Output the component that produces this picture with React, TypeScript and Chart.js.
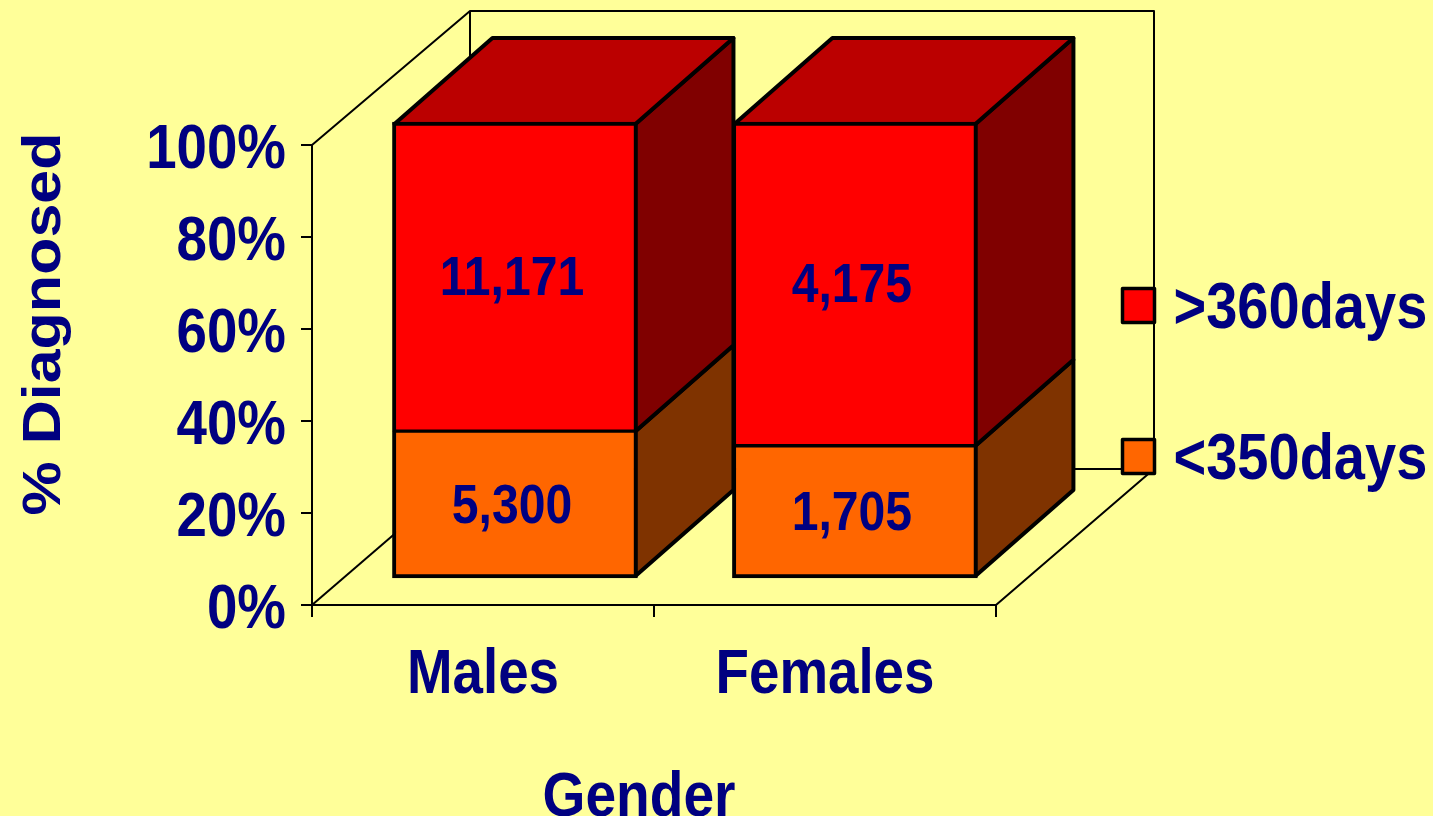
import React, { useEffect, useRef } from "react";
import { Chart, registerables } from "chart.js";

Chart.register(...registerables);

const categories = ["Males", "Females"];
const barPositions = [0, 1];
const pctUnder350 = [32.2, 29.0];
const pctOver360 = [67.8, 71.0];
const countLabelsUnder350 = ["5,300", "1,705"];
const countLabelsOver360 = ["11,171", "4,175"];
const seriesNames = ["<350days", ">360days"];
const yTicks = { min: 0, step: 20, top: 100 };

const NAVY = "#000080";
const BG = "#FFFF99";
const FAMILY = "'Liberation Sans', Arial, sans-serif";
// The reference's type is condensed horizontally on screen.
const SQUEEZE = 0.875;
// Canvas "middle" sits above the visual centre of the digits.
const MIDDLE_DROP = 6;
// Axis titles are not centred on the plot in the reference (screen px).
const TITLE_SHIFT: Record<string, number[]> = { "% Diagnosed": [3, -40], Gender: [-15, 0] };
const BAR_DEPTH = { x: 98, y: -86 };
const WALL_DEPTH = { x: 158, top: -134, bottom: -136 };

const shades: Record<string, { front: string; side: string; top: string }> = {
  under: { front: "#FF6600", side: "#7F3300", top: "#7F3300" },
  over: { front: "#FF0000", side: "#800000", top: "#BB0000" },
};

function poly(ctx: CanvasRenderingContext2D, pts: number[][], fill: string | null, width: number) {
  ctx.beginPath();
  pts.forEach((p, i) => (i ? ctx.lineTo(p[0], p[1]) : ctx.moveTo(p[0], p[1])));
  if (fill) {
    ctx.closePath();
    ctx.fillStyle = fill;
    ctx.fill();
  }
  ctx.lineWidth = width;
  ctx.strokeStyle = "#000";
  ctx.lineJoin = "round";
  ctx.stroke();
}

const frame3d = {
  id: "frame3d",
  beforeDatasetsDraw(chart: any) {
    const ctx = chart.ctx as CanvasRenderingContext2D;
    const { left, right, bottom } = chart.chartArea;
    const topY = chart.scales.y.getPixelForValue(yTicks.top);
    const dx = WALL_DEPTH.x;
    const backTop = topY + WALL_DEPTH.top;
    const backBottom = bottom + WALL_DEPTH.bottom;
    ctx.save();
    poly(ctx, [[left, bottom], [left, topY], [left + dx, backTop], [right + dx, backTop], [right + dx, backBottom], [right, bottom]], null, 2);
    poly(ctx, [[left + dx, backTop], [left + dx, backBottom], [right + dx, backBottom]], null, 2);
    poly(ctx, [[left, bottom], [left + dx, backBottom]], null, 2);

    const under = chart.getDatasetMeta(0).data;
    const over = chart.getDatasetMeta(1).data;
    const ox = BAR_DEPTH.x;
    const oy = BAR_DEPTH.y;
    under.forEach((low: any, i: number) => {
      const high = over[i];
      const r = low.x + low.width / 2 - 2;
      const l = low.x - low.width / 2 + 2;
      const b = low.base - 2;
      const m = low.y;
      const t = high.y + 2;
      poly(ctx, [[r, b], [r + ox, b + oy], [r + ox, m + oy], [r, m]], shades.under.side, 4);
      poly(ctx, [[r, m], [r + ox, m + oy], [r + ox, t + oy], [r, t]], shades.over.side, 4);
      poly(ctx, [[l, t], [l + ox, t + oy], [r + ox, t + oy], [r, t]], shades.over.top, 4);
    });
    ctx.restore();
  },
  afterDatasetsDraw(chart: any) {
    const ctx = chart.ctx as CanvasRenderingContext2D;
    ctx.save();
    ctx.textAlign = "center";
    ctx.textBaseline = "middle";
    ctx.font = `bold 55px ${FAMILY}`;
    [countLabelsUnder350, countLabelsOver360].forEach((labels, d) => {
      chart.getDatasetMeta(d).data.forEach((el: any, i: number) => {
        ctx.fillStyle = NAVY;
        ctx.fillText(labels[i], el.x - 3, (el.y + el.base) / 2 - 3);
      });
    });
    // Legend, upper entry first
    const rows = [
      { name: seriesNames[1], color: shades.over.front, y: 288 },
      { name: seriesNames[0], color: shades.under.front, y: 439 },
    ];
    ctx.textAlign = "left";
    ctx.font = `bold 64px ${FAMILY}`;
    rows.forEach((row) => {
      ctx.fillStyle = row.color;
      ctx.fillRect(1122, row.y, 32, 34);
      ctx.strokeStyle = "#000";
      ctx.lineWidth = 3.5;
      ctx.lineJoin = "round";
      ctx.strokeRect(1122.5, row.y + 0.5, 32, 34);
      ctx.fillStyle = NAVY;
      ctx.fillText(row.name, 1173.5, row.y + 16);
    });
    ctx.restore();
  },
};

export default function App() {
  const ref = useRef<HTMLCanvasElement>(null);

  useEffect(() => {
    const canvas = ref.current!;
    const ctx = canvas.getContext("2d") as any;
    const rawFill = ctx.fillText.bind(ctx);
    ctx.fillText = (text: string, x: number, y: number) => {
      const m = ctx.getTransform();
      const rotated = Math.abs(m.b) > 0.5;
      const shift = TITLE_SHIFT[text] || [0, 0];
      ctx.save();
      ctx.setTransform(m.a, m.b, m.c, m.d, m.e + shift[0], m.f + shift[1]);
      ctx.translate(x, y + (!rotated && ctx.textBaseline === "middle" ? MIDDLE_DROP : 0));
      ctx.scale(rotated ? 1 : SQUEEZE, rotated ? SQUEEZE : 1);
      rawFill(text, 0, 0);
      ctx.restore();
    };

    const chart = new Chart(canvas, {
      type: "bar",
      data: {
        labels: categories,
        datasets: [
          {
            label: seriesNames[0],
            data: barPositions.map((x, i) => ({ x, y: pctUnder350[i] })),
            backgroundColor: shades.under.front,
            borderColor: "#000",
            borderWidth: { top: 2, left: 4, right: 4, bottom: 4 },
            borderSkipped: false,
            xAxisID: "x2",
            yAxisID: "y2",
            barThickness: 245,
            clip: false,
          },
          {
            label: seriesNames[1],
            data: barPositions.map((x, i) => ({ x, y: pctOver360[i] })),
            backgroundColor: shades.over.front,
            borderColor: "#000",
            borderWidth: { top: 4, left: 4, right: 4, bottom: 2 },
            borderSkipped: false,
            xAxisID: "x2",
            yAxisID: "y2",
            barThickness: 245,
            clip: false,
          },
        ],
      } as any,
      options: {
        responsive: false,
        animation: false,
        devicePixelRatio: 1,
        layout: { padding: { top: 123, right: 437, left: 0, bottom: 0 } },
        plugins: { legend: { display: false }, tooltip: { enabled: false }, title: { display: false } },
        scales: {
          x: {
            type: "category",
            position: "bottom",
            offset: true,
            afterFit: (s: any) => { s.height = 211; },
            grid: { drawOnChartArea: false, offset: true, tickLength: 12, color: "#000", lineWidth: 2 },
            border: { display: true, color: "#000", width: 2 },
            ticks: { color: NAVY, padding: 15, maxRotation: 0, font: { family: FAMILY, weight: "bold", size: 62.5 } },
            title: {
              display: true,
              text: "Gender",
              color: NAVY,
              padding: 0,
              font: { family: FAMILY, weight: "bold", size: 63, lineHeight: 0.75 },
            },
          },
          y: {
            type: "linear",
            position: "left",
            min: yTicks.min,
            max: 104.78,
            afterFit: (s: any) => { s.width = 312; },
            grid: { drawOnChartArea: false, tickLength: 11, color: "#000", lineWidth: 2 },
            border: { display: false },
            ticks: {
              color: NAVY,
              padding: 15,
              stepSize: yTicks.step,
              includeBounds: false,
              callback: (v: any) => `${v}%`,
              font: { family: FAMILY, weight: "bold", size: 62.5 },
            },
            title: {
              display: true,
              text: "% Diagnosed",
              color: NAVY,
              padding: { top: 6, bottom: 0 },
              font: { family: FAMILY, weight: "bold", size: 61 },
            },
          },
          x2: { type: "linear", display: false, stacked: true, offset: false, min: -0.597, max: 1.415, grid: { offset: false } },
          y2: { type: "linear", display: false, stacked: true, min: -5.92, max: 99.78 },
        },
      } as any,
      plugins: [frame3d],
    });

    return () => {
      chart.destroy();
      delete ctx.fillText;
    };
  }, []);

  return (
    <div style={{ position: "fixed", inset: 0, background: BG, overflow: "hidden" }}>
      <canvas ref={ref} width={1433} height={816} style={{ display: "block" }} />
    </div>
  );
}
